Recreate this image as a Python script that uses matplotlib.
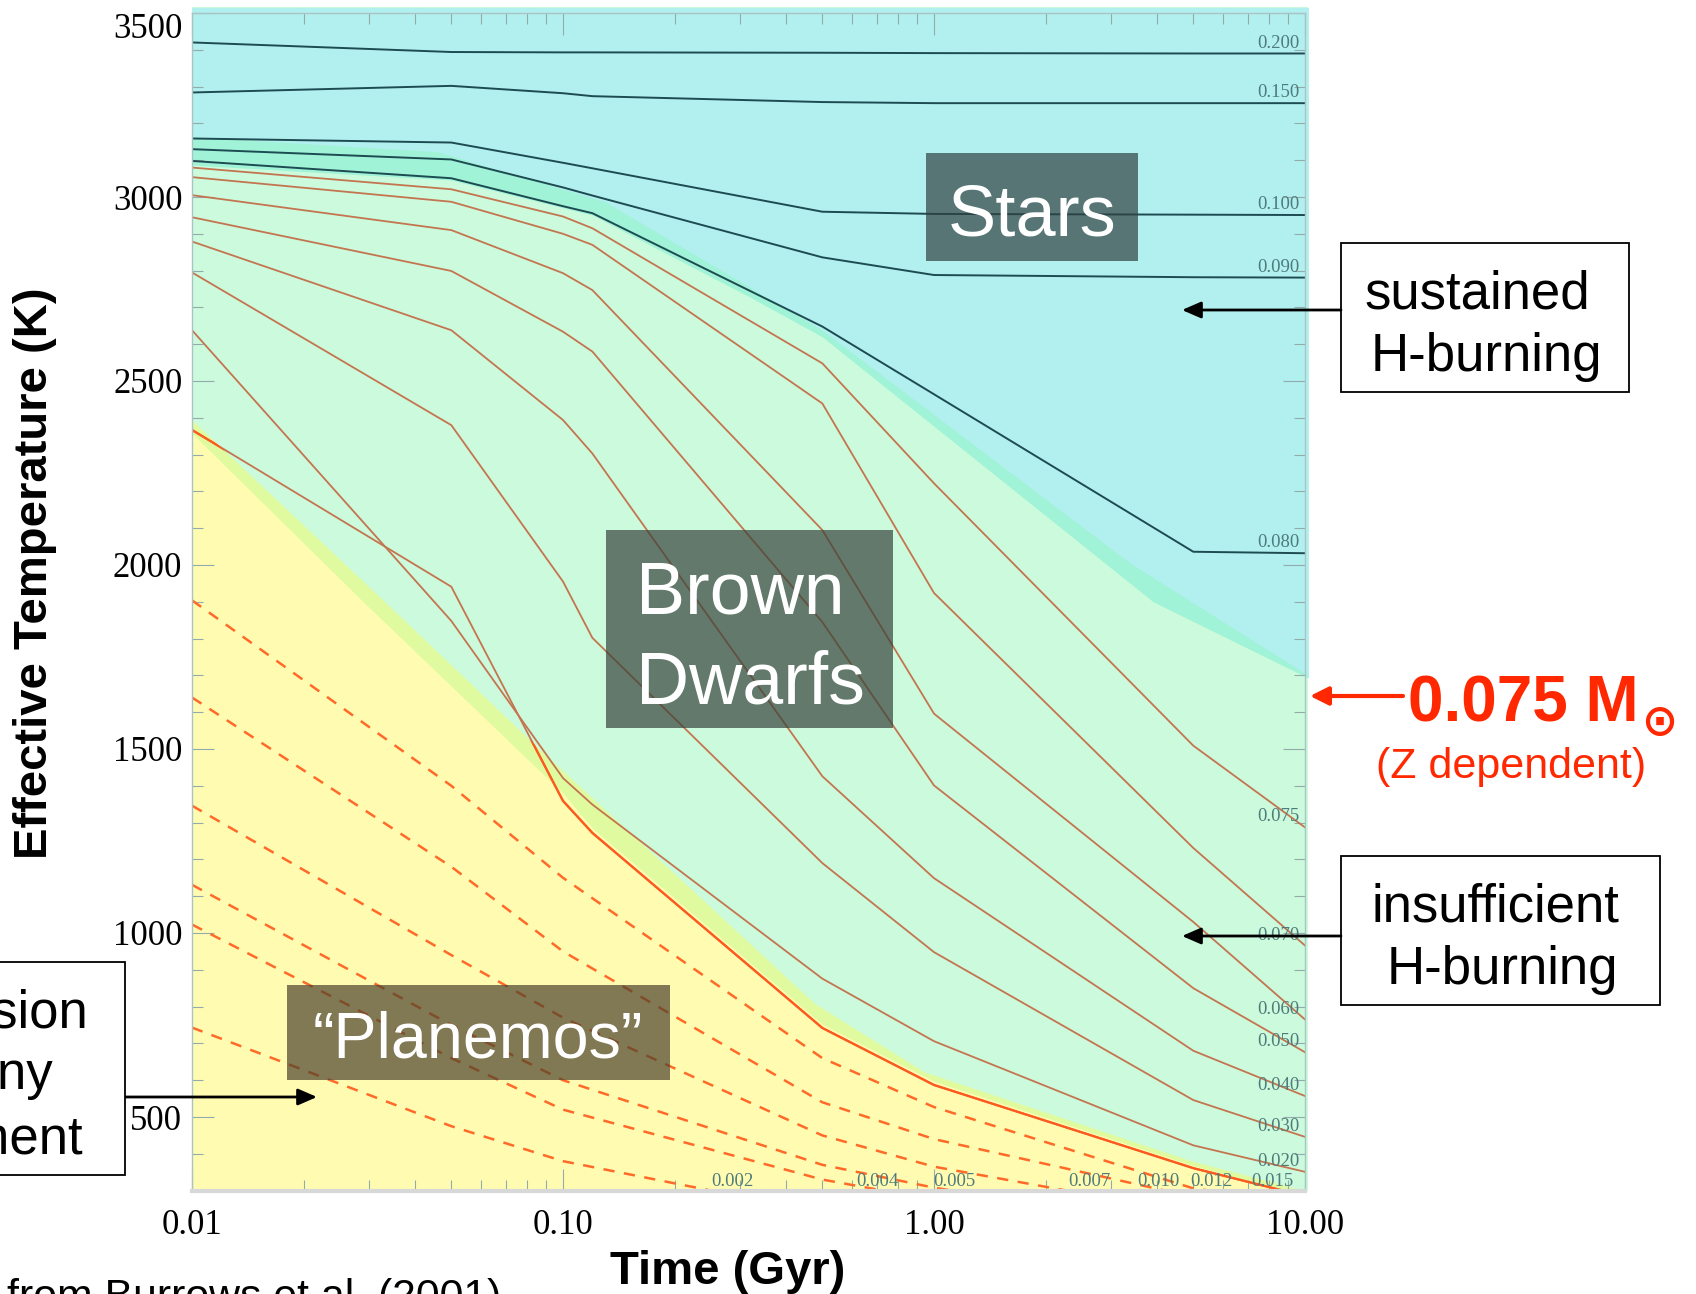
import matplotlib.pyplot as plt
from matplotlib.patches import Rectangle, FancyArrowPatch
from matplotlib.ticker import FixedLocator, NullFormatter

plt.rcParams['font.family'] = ['Liberation Sans', 'DejaVu Sans']

W, H = 1696, 1294
SERIF = 'Liberation Serif'

# ages (Gyr) at which the model tracks are tabulated
age = [0.01, 0.05, 0.10, 0.12, 0.50, 1.00, 5.00, 10.00]

# Teff (K) of hydrogen-burning stars
teff_m200 = [3420, 3394, 3393, 3393, 3392, 3391, 3390, 3390]
teff_m150 = [3284, 3302, 3282, 3274, 3258, 3255, 3255, 3255]
teff_m100 = [3159, 3148, 3093, 3078, 2960, 2954, 2952, 2951]
teff_m090 = [3130, 3102, 3026, 3004, 2836, 2788, 2782, 2781]
teff_m080 = [3098, 3051, 2975, 2956, 2648, 2464, 2036, 2032]

# Teff (K) of brown dwarfs
teff_m075 = [3080, 3021, 2947, 2915, 2548, 2222, 1509, 1287]
teff_m070 = [3054, 2987, 2900, 2870, 2439, 1924, 1231, 966]
teff_m060 = [3005, 2910, 2793, 2747, 2095, 1596, 1030, 765]
teff_m050 = [2945, 2799, 2634, 2580, 1845, 1401, 850, 676]
teff_m040 = [2879, 2638, 2394, 2303, 1426, 1149, 680, 557]
teff_m030 = [2795, 2380, 1955, 1802, 1190, 948, 546, 446]
teff_m020 = [2638, 1848, 1421, 1349, 876, 706, 423, 351]
teff_m015 = [2367, 1941, 1359, 1272, 742, 587, 361, 285]

# planetary-mass objects (dashed)
planet_age = [0.01, 0.05, 0.10, 0.50, 1.00, 5.00, 10.00]
teff_m012 = [1904, 1400, 1150, 660, 527, 306, 265]
teff_m010 = [1640, 1180, 950, 540, 440, 283, 238]
teff_m007 = [1346, 940, 770, 450, 365, 238, 198]
teff_m005 = [1131, 750, 600, 370, 308, 197, 163]
teff_m004 = [1023, 660, 520, 330, 275, 175, 145]
teff_m002 = [743, 475, 380, 240, 198, 127, 105]

star_tracks = [('0.200', teff_m200), ('0.150', teff_m150), ('0.100', teff_m100),
               ('0.090', teff_m090), ('0.080', teff_m080)]
bd_tracks = [('0.075', teff_m075), ('0.070', teff_m070), ('0.060', teff_m060),
             ('0.050', teff_m050), ('0.040', teff_m040), ('0.030', teff_m030),
             ('0.020', teff_m020)]
planet_tracks = [teff_m012, teff_m010, teff_m007, teff_m005, teff_m004, teff_m002]

# labels sitting on the time axis, where the low-mass tracks run out
bottom_labels = ['0.002', '0.004', '0.005', '0.007', '0.010', '0.012', '0.015']
bottom_label_age = [0.286, 0.704, 1.135, 2.62, 4.02, 5.59, 8.15]

# boundaries of the shaded regions
star_edge_age = [0.01, 0.046, 0.13, 0.50, 3.38, 10.2]
star_edge_teff = [3164, 3123, 2987, 2638, 2005, 1700]
trans_edge_age = [0.01, 0.05, 0.12, 0.318, 0.50, 3.9, 10.2]
trans_edge_teff = [3087, 3046, 2951, 2729, 2620, 1900, 1693]
bd_edge_age = [0.01, 0.0327, 0.09, 0.12, 0.318, 0.476, 0.94, 4.97, 10.0]
bd_edge_teff = [2394, 1905, 1483, 1367, 973, 809, 623, 380, 300]
planet_edge_age = [0.01, 0.0286, 0.10, 0.12, 0.50, 1.00, 5.00, 10.0]
planet_edge_teff = [2358, 1905, 1380, 1285, 752, 597, 368, 285]

BLUE = '#b2efef'
BAND = '#a0f3d7'
GREEN = '#ccfadc'
YGREEN = '#e0faa0'
YELLOW = '#fffcb2'
DARK = '#1d4b52'
BROWN = '#c37550'
ORANGE = '#ff5a1e'
DASH = '#ff6a28'
LABEL = '#4e7b7b'
RED = '#ff2800'
TICK = '#93abab'


def fxy(x, y):
    """pixel position (from top-left) -> figure fraction"""
    return x / W, 1 - y / H


def box(fig, x0, y0, x1, y1, **kw):
    fig.add_artist(Rectangle((x0 / W, 1 - y1 / H), (x1 - x0) / W, (y1 - y0) / H,
                             transform=fig.transFigure, **kw))


def arrow(fig, x0, y0, x1, y1, color='black', lw=2.0, hl=1.15, hw=0.5):
    fig.add_artist(FancyArrowPatch((x0 / 100, (H - y0) / 100), (x1 / 100, (H - y1) / 100),
                                   transform=fig.dpi_scale_trans, color=color, lw=lw,
                                   arrowstyle=f'-|>,head_length={hl},head_width={hw}',
                                   mutation_scale=10, shrinkA=0, shrinkB=0, zorder=5))


fig = plt.figure(figsize=(W / 100, H / 100), dpi=100, facecolor='white')
ax = fig.add_axes([192 / W, 1 - 1190.6 / H, (1305 - 192) / W, (1190.6 - 13) / H])
ax.set_xscale('log')
ax.set_xlim(0.01, 10)
ax.set_ylim(300, 3500)

# shaded regions
ax.fill_between([0.01, 10.2], 300, 3515, color=GREEN, lw=0, zorder=0, clip_on=False)
ax.fill_between(trans_edge_age, trans_edge_teff, 3515, color=BAND, lw=0, zorder=0, clip_on=False)
ax.fill_between(star_edge_age, star_edge_teff, 3515, color=BLUE, lw=0, zorder=0, clip_on=False)
bd_fill = ax.fill_between(bd_edge_age, 300, bd_edge_teff, color=YGREEN, lw=0, zorder=0)
ax.fill_between(planet_edge_age, 300, planet_edge_teff, color=YELLOW, lw=0, zorder=0)

# tracks
for lab, teff in star_tracks:
    ax.plot(age, teff, color=DARK, lw=1.4, zorder=2)
for lab, teff in bd_tracks:
    ax.plot(age, teff, color=BROWN, lw=1.3, zorder=2)
ax.plot(age, teff_m015, color=BROWN, lw=1.3, zorder=2)
hot = ax.plot(age, teff_m015, color=ORANGE, lw=1.7, zorder=2.1)[0]
hot.set_clip_path(bd_fill.get_paths()[0], ax.transData)
for teff in planet_tracks:
    ax.plot(planet_age, teff, color=DASH, lw=1.8, dashes=(4.5, 3.8), zorder=2)

# mass labels
for lab, teff in star_tracks + bd_tracks:
    ax.text(9.64, teff[-1] + 16, lab, ha='right', va='baseline', fontsize=13.5,
            family=SERIF, color=LABEL, zorder=3)
for lab, a in zip(bottom_labels, bottom_label_age):
    ax.text(a, 312, lab, ha='center', va='baseline', fontsize=13.5,
            family=SERIF, color=LABEL, zorder=3)

# axes, ticks
ax.xaxis.set_major_locator(FixedLocator([0.01, 0.1, 1, 10]))
ax.set_xticklabels(['0.01', '0.10', '1.00', '10.00'])
ax.xaxis.set_minor_locator(FixedLocator([m * d for d in (0.01, 0.1, 1) for m in range(2, 10)]))
ax.xaxis.set_minor_formatter(NullFormatter())
ax.yaxis.set_major_locator(FixedLocator(list(range(500, 3501, 500))))
ax.set_yticklabels([str(v) for v in range(500, 3501, 500)])
ax.yaxis.set_minor_locator(FixedLocator(list(range(300, 3501, 100))))
ax.yaxis.set_minor_formatter(NullFormatter())
ax.tick_params(which='both', direction='in', top=True, right=True, color=TICK, width=0.8,
               labelsize=25, labelfontfamily=SERIF)
ax.tick_params(which='major', length=16)
ax.tick_params(which='minor', length=8)
ax.tick_params(axis='y', pad=7)
ax.tick_params(axis='x', pad=13)
ax.yaxis.get_major_ticks()[-1].label1.set_va('top')
for side in ('left', 'right', 'top'):
    ax.spines[side].set_color('#a9c4c4')
    ax.spines[side].set_linewidth(1.0)
ax.spines['bottom'].set_color('#d8d8d8')
ax.spines['bottom'].set_linewidth(3)

fig.text(*fxy(728, 1283.6), 'Time (Gyr)', ha='center', va='baseline', fontsize=34, weight='bold')
fig.text(*fxy(35, 573), 'Effective Temperature (K)', rotation=90, ha='center', va='center',
         fontsize=34, weight='bold')

# region names
box(fig, 926, 153, 1138, 261, facecolor='#314141', alpha=0.7, lw=0, zorder=3)
fig.text(*fxy(1032, 236), 'Stars', color='white', fontsize=52, ha='center', va='baseline', zorder=4)
box(fig, 606, 530, 893, 728, facecolor='#37433c', alpha=0.7, lw=0, zorder=3)
fig.text(*fxy(636, 614), 'Brown', color='white', fontsize=53, ha='left', va='baseline', zorder=4)
fig.text(*fxy(636, 704), 'Dwarfs', color='white', fontsize=53, ha='left', va='baseline', zorder=4)
box(fig, 287, 985, 670, 1080, facecolor='#4a422c', alpha=0.7, lw=0, zorder=3)
fig.text(*fxy(478, 1058), '\u201cPlanemos\u201d', color='white', fontsize=46.5, ha='center',
         va='baseline', zorder=4)

# call-outs
box(fig, 1341, 243, 1629, 392, facecolor='white', edgecolor='black', lw=1.3, zorder=3)
fig.text(*fxy(1477, 308), 'sustained', fontsize=38, ha='center', va='baseline', zorder=4)
fig.text(*fxy(1486, 371), 'H-burning', fontsize=38, ha='center', va='baseline', zorder=4)
arrow(fig, 1341, 310, 1182, 310)

box(fig, 1341, 856, 1660, 1005, facecolor='white', edgecolor='black', lw=1.3, zorder=3)
fig.text(*fxy(1495, 921), 'insufficient', fontsize=38, ha='center', va='baseline', zorder=4)
fig.text(*fxy(1502, 984), 'H-burning', fontsize=38, ha='center', va='baseline', zorder=4)
arrow(fig, 1341, 936, 1182, 936)

box(fig, -200, 962, 125, 1175, facecolor='white', edgecolor='black', lw=1.3, zorder=3)
fig.text(*fxy(88, 1027), 'No fusion', fontsize=38, ha='right', va='baseline', zorder=4)
fig.text(*fxy(53, 1089), 'at any', fontsize=38, ha='right', va='baseline', zorder=4)
fig.text(*fxy(83, 1153), 'moment', fontsize=38, ha='right', va='baseline', zorder=4)
arrow(fig, 126, 1097, 317, 1097)

# hydrogen-burning limit
arrow(fig, 1403, 696, 1310, 696, color=RED, lw=3.0, hl=1.1, hw=0.55)
fig.text(*fxy(1408, 721.7), '0.075 M', color=RED, weight='bold', fontsize=46,
         ha='left', va='baseline')
fig.text(*fxy(1659, 722.5), '\u2299', family=['DejaVu Sans'], weight='bold', fontsize=31,
         color=RED, ha='center', va='center')
fig.text(*fxy(1376, 778), '(Z dependent)', color=RED, fontsize=31, ha='left', va='baseline')

fig.text(*fxy(7, 1309), 'from Burrows et al. (2001)', fontsize=30.8, ha='left', va='baseline')

fig.savefig('out.png', dpi=100)
